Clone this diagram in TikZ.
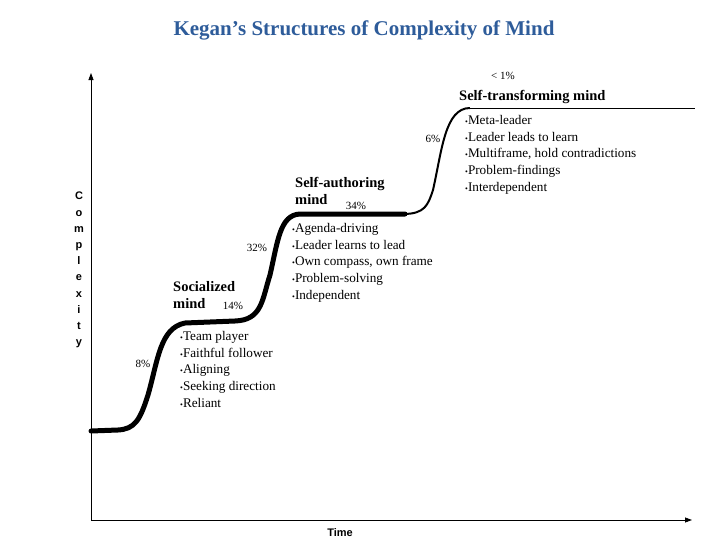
\documentclass[tikz,border=0pt]{standalone}
\usepackage{fontspec}
\setmainfont{Liberation Serif}
\setsansfont{Liberation Sans}
\usetikzlibrary{arrows.meta}
\definecolor{ttl}{HTML}{2E5C9A}
\tikzset{head/.style={inner sep=0pt,anchor=west,align=left,font=\bfseries\fontsize{14.5}{17.5}\selectfont},
 pct/.style={inner sep=0pt,font=\fontsize{11}{13}\selectfont},
 blist/.style={inner sep=0pt,anchor=north west,align=left,font=\fontsize{13.2}{16.8}\selectfont}}
\newcommand{\bt}{{\footnotesize\textbullet}}
\begin{document}
\begin{tikzpicture}[x=1pt,y=-1pt]
\useasboundingbox (0,0) rectangle (728,546);
\node[font=\bfseries\fontsize{21}{25}\selectfont,text=ttl] (title) at (364,30) {Kegan’s Structures of Complexity of Mind};
\coordinate (o) at (91,520);
\coordinate (ytop) at (91,73);
\coordinate (xend) at (692,520);
\draw[line width=0.8pt,-{Triangle[length=7pt,width=5pt]}] (o) -- (ytop);
\draw[line width=0.8pt,-{Triangle[length=7pt,width=5pt]}] (o) -- (xend);
\node[font=\sffamily\bfseries\fontsize{11}{16.2}\selectfont,align=center,inner sep=0pt] (cx) at (79,270) {C\\o\\m\\p\\l\\e\\x\\i\\t\\y};
\node[font=\sffamily\bfseries\fontsize{11}{13}\selectfont,inner sep=0pt] (time) at (340,533) {Time};
\draw[line width=5pt,line cap=round] (91,431) -- (118,430) .. controls (135,429) and (140,420) .. (148,395)
 .. controls (158,360) and (160,328) .. (185,323) -- (235,321) .. controls (262,320) and (262,300) .. (270,275)
 .. controls (278,240) and (280,215) .. (300,214) -- (405,214);
\draw[line width=2pt] (403,214) .. controls (425,214) and (428,205) .. (433,190)
 .. controls (442,150) and (445,108) .. (470,108);
\draw[line width=1pt] (468,108) -- (695,108);
\node[pct] (p1) at (143,364) {8\%};
\node[pct] (p2) at (233,306) {14\%};
\node[pct] (p3) at (257,248) {32\%};
\node[pct] (p4) at (356,206) {34\%};
\node[pct] (p5) at (433,139) {6\%};
\node[pct] (p6) at (503,76) {< 1\%};
\node[head] (h1) at (173,295) {Socialized\\mind};
\node[head] (h2) at (295,191) {Self-authoring\\mind};
\node[head] (h3) at (459,97) {Self-transforming mind};
\node[blist] (l1) at (180,331) {\bt Team player\\\bt Faithful follower\\\bt Aligning\\\bt Seeking direction\\\bt Reliant};
\node[blist] (l2) at (292,223) {\bt Agenda-driving\\\bt Leader learns to lead\\\bt Own compass, own frame\\\bt Problem-solving\\\bt Independent};
\node[blist] (l3) at (465,115) {\bt Meta-leader\\\bt Leader leads to learn\\\bt Multiframe, hold contradictions\\\bt Problem-findings\\\bt Interdependent};
\end{tikzpicture}
\end{document}
